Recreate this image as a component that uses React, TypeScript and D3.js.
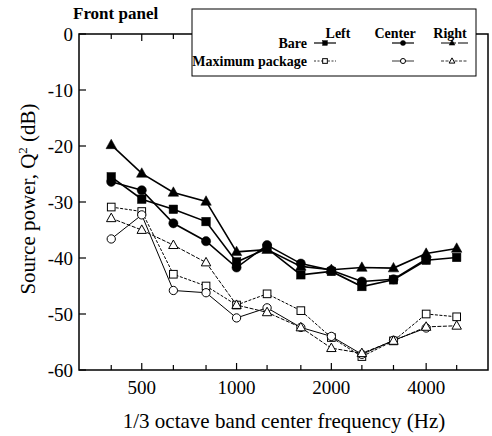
import React from "react";
import * as d3 from "d3";

const freqs = [400, 500, 630, 800, 1000, 1250, 1600, 2000, 2500, 3150, 4000, 5000];
const majorFreqs = [500, 1000, 2000, 4000];
const yTicks = [0, -10, -20, -30, -40, -50, -60];

const bareLeft = [-25.5, -29.5, -31.3, -33.5, -40.7, -38.3, -43.0, -42.4, -45.1, -43.9, -40.4, -39.9];
const bareCenter = [-26.4, -27.9, -33.8, -37.0, -41.7, -37.7, -41.0, -42.2, -44.2, -43.8, -40.2];
const bareRight = [-19.8, -24.9, -28.3, -29.9, -38.9, -38.5, -41.5, -42.1, -41.7, -41.8, -39.2, -38.3];
const maxLeft = [-30.9, -31.7, -42.9, -45.0, -48.4, -46.4, -49.4, -54.2, -57.6, -54.8, -50.0, -50.5];
const maxCenter = [-36.6, -32.3, -45.8, -46.2, -50.7, -48.9, -52.4, -54.0, -57.2, -54.7, -52.5];
const maxRight = [-32.9, -35.0, -37.7, -40.8, -48.4, -49.7, -52.4, -56.1, -57.0, -54.8, -52.3, -52.1];

const W = 492, H = 436;
const L = 79, R = 488, T = 34, B = 370;
const FONT = "'Liberation Serif', 'Times New Roman', serif";

type Shape = "square" | "circle" | "triangle";

function Marker({ x, y, shape, filled, size }: { x: number; y: number; shape: Shape; filled: boolean; size: number }) {
  const fill = filled ? "#000" : "#fff";
  const sw = filled ? 0.5 : 1;
  if (shape === "square") {
    const s = size * 0.85;
    return <rect x={x - s / 2} y={y - s / 2} width={s} height={s} fill={fill} stroke="#000" strokeWidth={sw} />;
  }
  if (shape === "circle") {
    return <circle cx={x} cy={y} r={size * 0.46} fill={fill} stroke="#000" strokeWidth={sw} />;
  }
  const s = size * 1.05;
  const h = s * 0.9;
  const p = `M${x},${y - h * 0.6} L${x + s / 2},${y + h * 0.4} L${x - s / 2},${y + h * 0.4} Z`;
  return <path d={p} fill={fill} stroke="#000" strokeWidth={sw} />;
}

export default function App() {
  const x = d3.scaleLog().domain([316, 6287]).range([L, R]);
  const y = d3.scaleLinear().domain([-60, 0]).range([B, T]);
  const line = d3.line<[number, number]>().x((d) => x(d[0])).y((d) => y(d[1]));

  const series: { vals: number[]; shape: Shape; filled: boolean; dash?: string }[] = [
    { vals: maxLeft, shape: "square", filled: false, dash: "3,1.5" },
    { vals: maxCenter, shape: "circle", filled: false },
    { vals: maxRight, shape: "triangle", filled: false, dash: "4,1.5" },
    { vals: bareLeft, shape: "square", filled: true },
    { vals: bareCenter, shape: "circle", filled: true },
    { vals: bareRight, shape: "triangle", filled: true },
  ];

  return (
    <div style={{ position: "absolute", left: 0, top: 0 }}>
      <svg width={W} height={H} style={{ display: "block", background: "#fff" }} fontFamily={FONT}>
        {/* frame */}
        <rect x={L} y={T} width={R - L} height={B - T} fill="none" stroke="#000" strokeWidth={1.5} />
        {/* x ticks bottom & top */}
        {freqs.map((f) => {
          const len = majorFreqs.includes(f) ? 7 : 5;
          return (
            <g key={"xt" + f}>
              <line x1={x(f)} x2={x(f)} y1={B} y2={B - len} stroke="#000" strokeWidth={1.2} />
              <line x1={x(f)} x2={x(f)} y1={T} y2={T + len} stroke="#000" strokeWidth={1.2} />
            </g>
          );
        })}
        {majorFreqs.map((f) => (
          <text key={"xl" + f} x={x(f)} y={394} textAnchor="middle" fontSize={19}>
            {f}
          </text>
        ))}
        {/* y ticks */}
        {yTicks.map((v) => (
          <g key={"yt" + v}>
            <line x1={L} x2={L + 7} y1={y(v)} y2={y(v)} stroke="#000" strokeWidth={1.2} />
            <text x={73} y={y(v) + 6.5} textAnchor="end" fontSize={19}>
              {v}
            </text>
          </g>
        ))}
        {/* axis titles */}
        <text x={284} y={428} textAnchor="middle" fontSize={21}>
          1/3 octave band center frequency (Hz)
        </text>
        <text transform={`translate(35,199) rotate(-90)`} textAnchor="middle" fontSize={21}>
          Source power, Q<tspan fontSize={13} dy={-8}>2</tspan>
          <tspan dy={8}> (dB)</tspan>
        </text>
        {/* series lines */}
        {series.map((s, i) => (
          <path
            key={"l" + i}
            d={line(s.vals.map((v, j) => [freqs[j], v] as [number, number])) || ""}
            fill="none"
            stroke="#000"
            strokeWidth={s.filled ? 1.6 : 1}
            strokeDasharray={s.dash}
          />
        ))}
        {series.map((s, i) => (
          <g key={"m" + i}>
            {s.vals.map((v, j) => (
              <Marker key={j} x={x(freqs[j])} y={y(v)} shape={s.shape} filled={s.filled} size={s.filled ? 10 : 9} />
            ))}
          </g>
        ))}
        {/* legend */}
        <rect x={192} y={9} width={284} height={67} fill="#fff" stroke="#000" strokeWidth={1} />
        <text x={73} y={19} fontSize={17} fontWeight="bold">
          Front panel
        </text>
        <g fontSize={14} fontWeight="bold">
          <text x={338} y={38} textAnchor="middle">Left</text>
          <text x={395} y={38} textAnchor="middle">Center</text>
          <text x={450} y={38} textAnchor="middle">Right</text>
          <text x={307} y={48} textAnchor="end">Bare</text>
          <text x={307} y={66} textAnchor="end">Maximum package</text>
        </g>
        {[
          { cx: 325, shape: "square" as Shape },
          { cx: 403, shape: "circle" as Shape },
          { cx: 452, shape: "triangle" as Shape },
        ].map((c, i) => (
          <g key={"lg" + i}>
            <line x1={c.cx - 11} x2={c.cx + (i === 2 ? 16 : 11)} y1={43} y2={43} stroke="#000" strokeWidth={1.2} strokeDasharray={i === 2 ? "12,0,3,2" : undefined} />
            <Marker x={c.cx} y={43} shape={c.shape} filled={true} size={5.5} />
            <line x1={c.cx - 11} x2={c.cx + (i === 2 ? 16 : 11)} y1={61} y2={61} stroke="#000" strokeWidth={0.8} strokeDasharray={i === 0 ? "2,1.5" : i === 2 ? "3,1.5" : undefined} />
            <Marker x={c.cx} y={61} shape={c.shape} filled={false} size={5.5} />
          </g>
        ))}
      </svg>
    </div>
  );
}
